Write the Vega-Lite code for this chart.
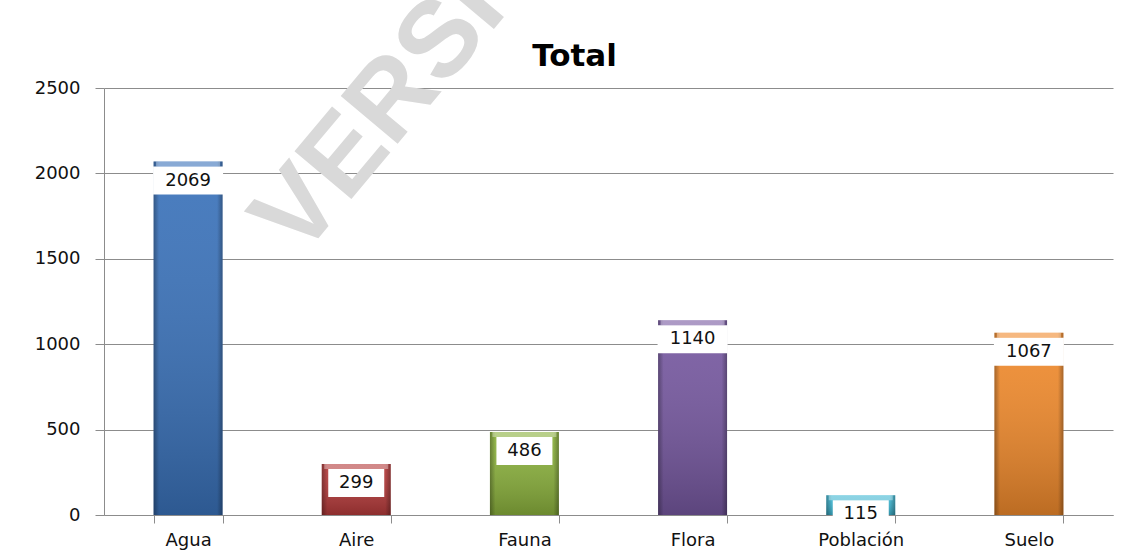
{
  "$schema": "https://vega.github.io/schema/vega-lite/v6.json",
  "width": 1009,
  "height": 427,
  "autosize": {"type": "none"},
  "padding": {"left": 104, "top": 88, "right": 20, "bottom": 39},
  "background": "white",
  "config": {
    "view": {"stroke": null},
    "font": "DejaVu Sans"
  },
  "title": {
    "text": "Total",
    "font": "DejaVu Sans",
    "fontSize": 31,
    "fontWeight": "bold",
    "color": "#000000",
    "anchor": "middle",
    "dx": -34,
    "offset": -241
  },
  "data": {
    "values": [
      {"categoria": "Agua", "total": 2069},
      {"categoria": "Aire", "total": 299},
      {"categoria": "Fauna", "total": 486},
      {"categoria": "Flora", "total": 1140},
      {"categoria": "Población", "total": 115},
      {"categoria": "Suelo", "total": 1067}
    ]
  },
  "encoding": {
    "x": {
      "field": "categoria",
      "type": "nominal",
      "sort": null,
      "scale": {"domain": ["Agua", "Aire", "Fauna", "Flora", "Población", "Suelo"], "paddingInner": 0.59, "paddingOuter": 0.295},
      "axis": {
        "title": null,
        "labelAngle": 0,
        "labelFontSize": 18,
        "labelFont": "DejaVu Sans",
        "labelColor": "#111111",
        "labelPadding": 8,
        "domainColor": "#8c8c8c",
        "tickColor": "#8c8c8c",
        "tickSize": 8,
        "tickBand": "extent",
        "grid": false
      }
    },
    "y": {
      "field": "total",
      "type": "quantitative",
      "scale": {"domain": [0, 2500], "nice": false},
      "axis": {
        "title": null,
        "values": [0, 500, 1000, 1500, 2000, 2500],
        "format": "d",
        "labelFontSize": 18,
        "labelFont": "DejaVu Sans",
        "labelColor": "#111111",
        "labelPadding": 15,
        "domainColor": "#8c8c8c",
        "tickColor": "#8c8c8c",
        "tickSize": 9,
        "gridColor": "#8c8c8c",
        "gridWidth": 1
      }
    }
  },
  "layer": [
    {
      "data": {"values": [{"texto": "VERSIÓN", "categoria": "Aire", "total": 1885}]},
      "mark": {
        "type": "text",
        "angle": -50,
        "align": "left",
        "baseline": "alphabetic",
        "font": "Liberation Sans",
        "fontWeight": "bold",
        "fontSize": 108,
        "color": "#d9d9d9",
        "dx": -87
      },
      "encoding": {
        "text": {"field": "texto"}
      }
    },
    {
      "mark": {"type": "bar"},
      "encoding": {
        "color": {
          "field": "categoria",
          "type": "nominal",
          "legend": null,
          "scale": {
            "domain": ["Agua", "Aire", "Fauna", "Flora", "Población", "Suelo"],
            "range": ["#3a72ba", "#b43a3a", "#8ab03c", "#7658a0", "#3fb8d4", "#f08a2c"]
          }
        }
      }
    },
    {
      "mark": {
        "type": "bar",
        "color": {
          "gradient": "linear",
          "x1": 0, "y1": 0, "x2": 0, "y2": 1,
          "stops": [
            {"offset": 0, "color": "rgba(255,255,255,0.08)"},
            {"offset": 1, "color": "rgba(0,0,0,0.22)"}
          ]
        }
      }
    },
    {
      "mark": {
        "type": "bar",
        "color": {
          "gradient": "linear",
          "x1": 0, "y1": 0, "x2": 1, "y2": 0,
          "stops": [
            {"offset": 0, "color": "rgba(0,0,0,0.3)"},
            {"offset": 0.08, "color": "rgba(0,0,0,0)"},
            {"offset": 0.92, "color": "rgba(0,0,0,0)"},
            {"offset": 1, "color": "rgba(0,0,0,0.3)"}
          ]
        }
      }
    },
    {
      "mark": {"type": "tick", "color": "white", "opacity": 0.35, "thickness": 5, "size": 64, "yOffset": 2.5}
    },
    {
      "mark": {"type": "tick", "color": "white", "opacity": 1, "thickness": 28, "yOffset": 19},
      "encoding": {
        "size": {"condition": {"test": "datum.total >= 1000", "value": 70}, "value": 56}
      }
    },
    {
      "mark": {"type": "text", "fontSize": 18, "font": "DejaVu Sans", "color": "#111111", "baseline": "middle", "yOffset": 19},
      "encoding": {
        "text": {"field": "total", "type": "quantitative", "format": "d"}
      }
    }
  ]
}
